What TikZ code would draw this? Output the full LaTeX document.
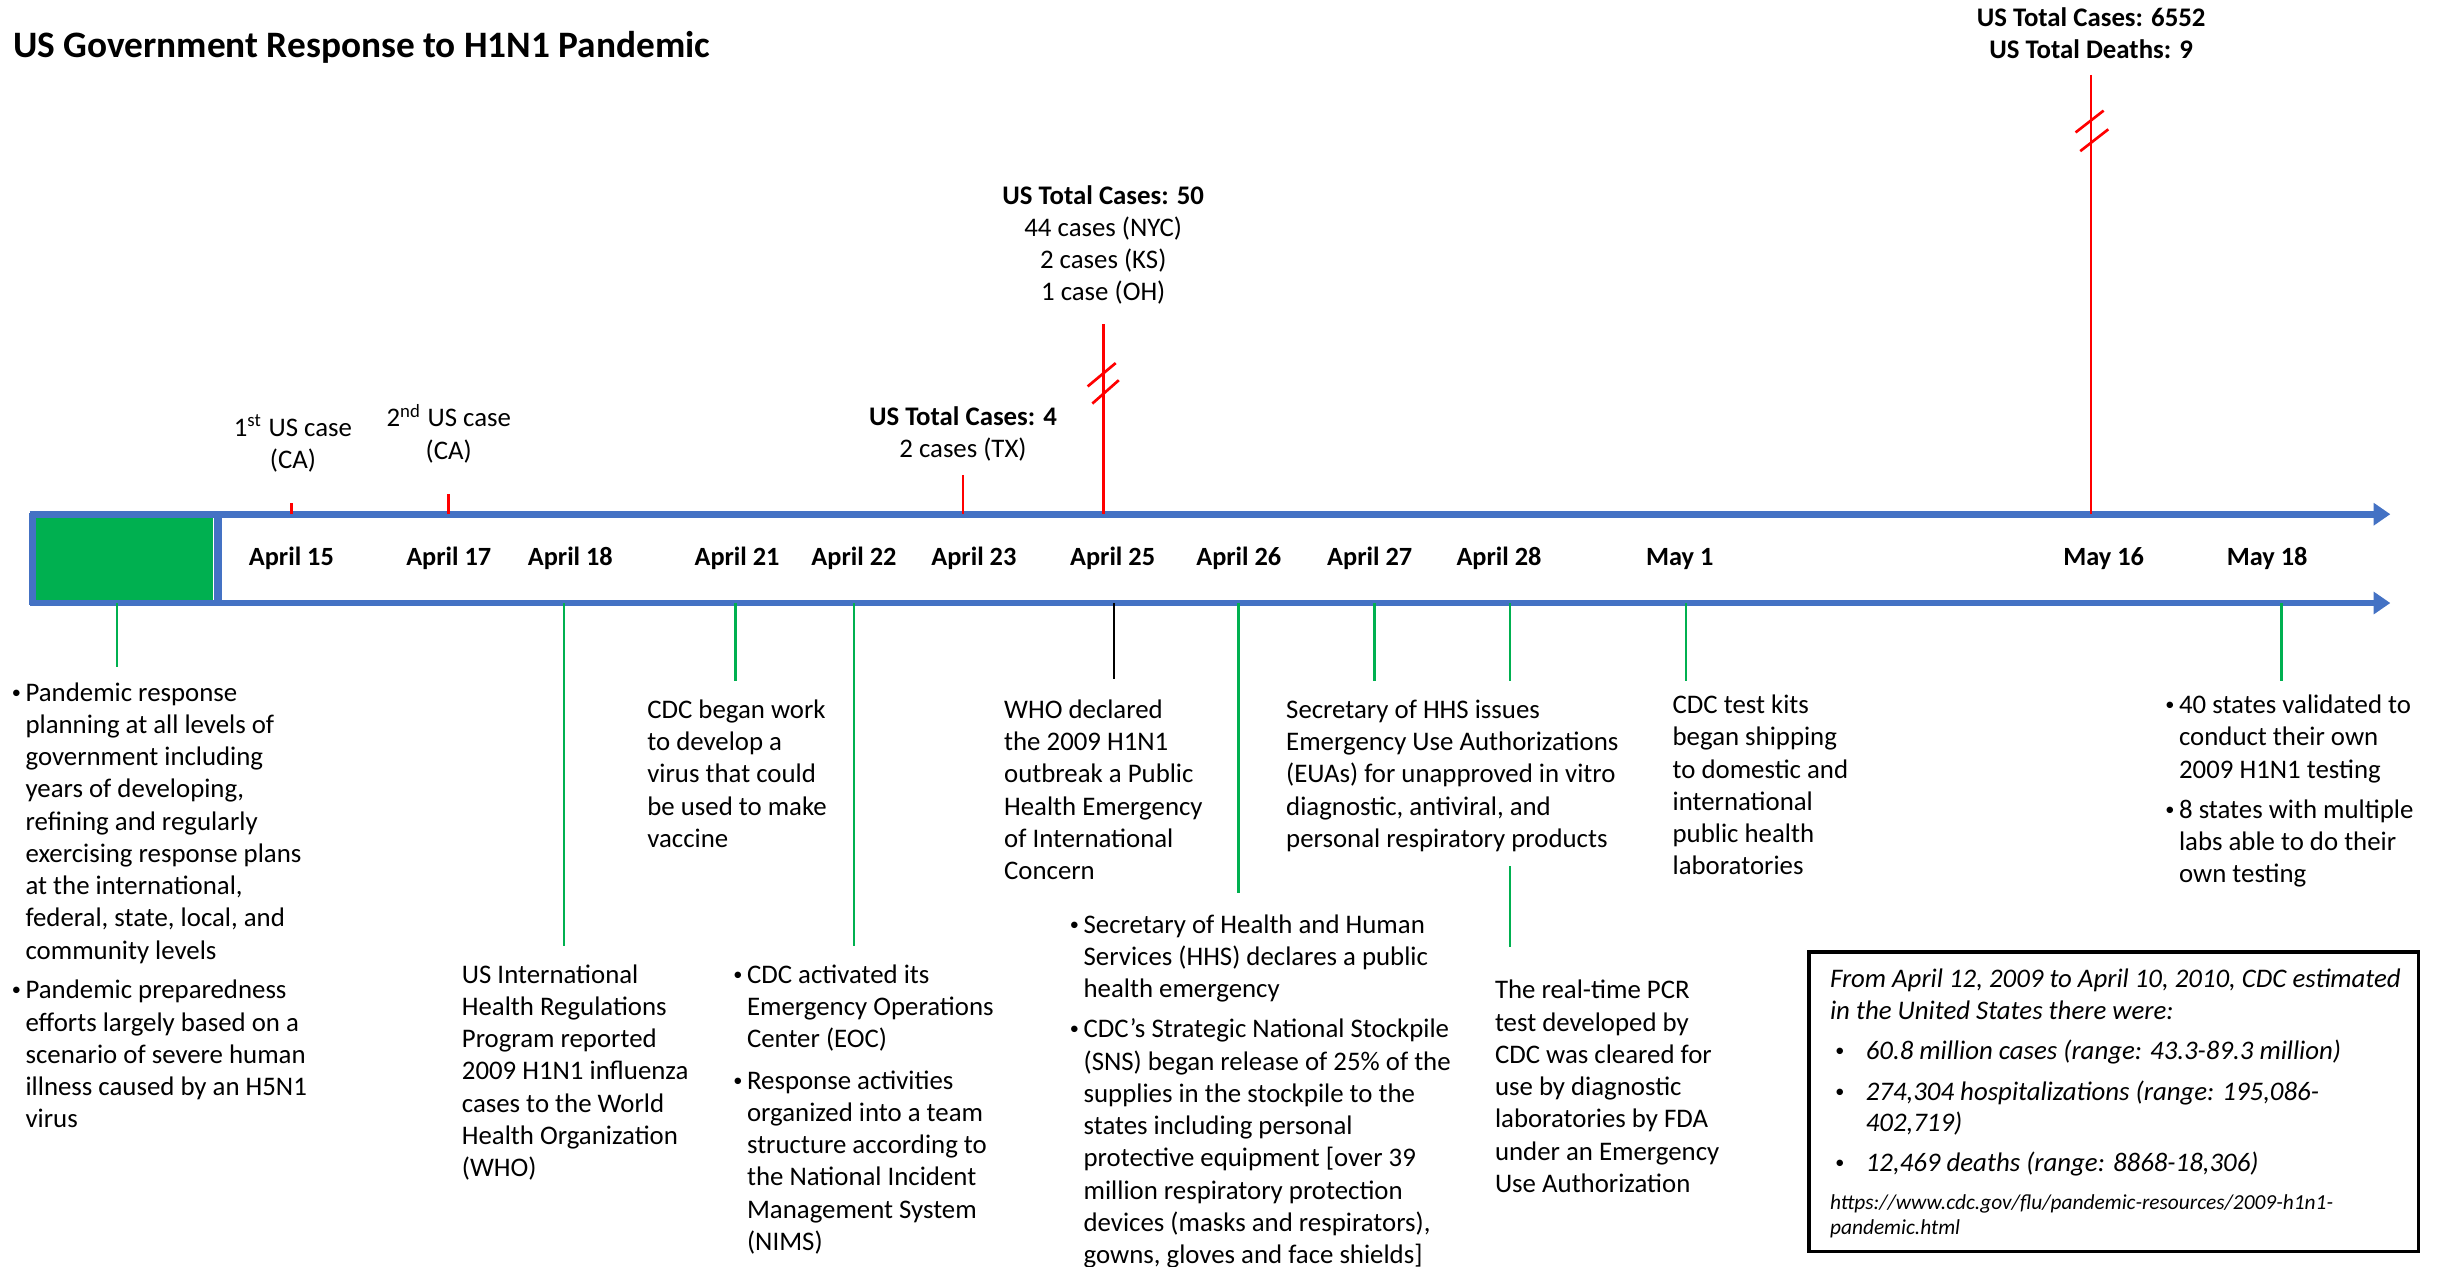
\documentclass[tikz,border=0pt]{standalone}
\usepackage{fontspec}
\setmainfont{Carlito}
\usetikzlibrary{arrows.meta}
\definecolor{tlblue}{RGB}{68,114,196}
\definecolor{tlgreen}{RGB}{0,176,80}
\definecolor{tlred}{RGB}{255,0,0}
\newcommand\bodyfont{\fontsize{8.05}{9.68}\selectfont}
\newcommand\datefont{\fontsize{7.9}{9.68}\selectfont\bfseries}
\newcommand\boxfont{\fontsize{8.05}{9.4}\selectfont\itshape}
\newcommand\urlfont{\fontsize{6.42}{7.5}\selectfont\itshape}
\newcommand\smallbullet{\raisebox{0.9pt}{\fontsize{5.5}{6}\selectfont\textbullet}}
\newcommand\bu{\llap{\smallbullet\hspace{1.4pt}}}
\newcommand\bx{\llap{\smallbullet\hspace{6.5pt}}}
\newcommand\uu{0.4677pt}
\begin{document}
\begin{tikzpicture}[x={(0.4677pt,0pt)},y={(0pt,-0.4677pt)},
  txt/.style={font=\bodyfont, align=left, anchor=base west, inner sep=0pt},
  ctr/.style={font=\bodyfont, align=center, anchor=base, inner sep=0pt},
  nl/.style={yshift=-#1*9.68pt},
  bl/.style={yshift=-#1*9.4pt},
  ul/.style={yshift=-#1*7.5pt},
  datelbl/.style={font=\datefont, anchor=base, inner sep=0pt},
  redln/.style={draw=tlred, line width=0.8pt},
  grnln/.style={draw=tlgreen, line width=0.8pt},
  blkln/.style={draw=black, line width=0.8pt},
  axis/.style={draw=tlblue, line width=2pt, -{Triangle[length=5pt,width=6.5pt]}},
  brk/.style={draw=tlred, line width=0.8pt}]
\useasboundingbox (0,0) rectangle (1567.8,813.1);

% title
\node[font=\fontsize{11.2}{13}\selectfont\bfseries, anchor=base west, inner sep=0pt] (title) at (8,37) {US Government Response to H1N1 Pandemic};

% axes
\coordinate (axL) at (19,330); \coordinate (axR) at (1534,330);
\coordinate (bxL) at (19,387); \coordinate (bxR) at (1534,387);
\node[fill=tlgreen, inner sep=0pt, minimum width=115*\uu, minimum height=54*\uu] (gbox) at (79.5,358.5) {};
\draw[axis] (axL) -- (axR);
\draw[axis] (bxL) -- (bxR);
\draw[tlblue, line width=2pt] (21,329) -- (21,388);
\draw[tlblue, line width=2.3pt] (140,330) -- (140,387);

% dates
\node[datelbl] (d15) at (187,363) {April 15};
\node[datelbl] (d17) at (288,363) {April 17};
\node[datelbl] (d18) at (366,363) {April 18};
\node[datelbl] (d21) at (473,363) {April 21};
\node[datelbl] (d22) at (548,363) {April 22};
\node[datelbl] (d23) at (625,363) {April 23};
\node[datelbl] (d25) at (714,363) {April 25};
\node[datelbl] (d26) at (795,363) {April 26};
\node[datelbl] (d27) at (879,363) {April 27};
\node[datelbl] (d28) at (962,363) {April 28};
\node[datelbl] (m1) at (1078,363) {May 1};
\node[datelbl] (m16) at (1350,363) {May 16};
\node[datelbl] (m18) at (1455,363) {May 18};

% upper labels
\node[ctr, nl=1] (u15) at (188,280) {1\textsuperscript{st} US case\\(CA)};
\node[ctr, nl=1] (u17) at (288,274) {2\textsuperscript{nd} US case\\(CA)};
\node[ctr, nl=1] (u23) at (618,273) {\textbf{US Total Cases: 4}\\2 cases (TX)};
\node[ctr, nl=3] (u25) at (708,131) {\textbf{US Total Cases: 50}\\44 cases (NYC)\\2 cases (KS)\\1 case (OH)};
\node[ctr, nl=1] (u16) at (1342,17) {\textbf{US Total Cases: 6552}\\\textbf{US Total Deaths: 9}};

% red ticks
\coordinate (r15) at (187,323); \coordinate (r15b) at (187,330);
\coordinate (r17) at (288,317); \coordinate (r17b) at (288,330);
\coordinate (r23) at (618,305); \coordinate (r23b) at (618,330);
\coordinate (r25) at (708,208); \coordinate (r25b) at (708,330);
\coordinate (r16) at (1342,48); \coordinate (r16b) at (1342,330);
\draw[redln] (r15) -- (r15b);
\draw[redln] (r17) -- (r17b);
\draw[redln] (r23) -- (r23b);
\draw[redln] (r25) -- (r25b);
\draw[redln] (r16) -- (r16b);
% break marks
\draw[brk] (698,248) -- (716,233);
\draw[brk] (701,259) -- (718,244);
\draw[brk] (1332,85) -- (1350,71);
\draw[brk] (1335,97) -- (1353,83);

% lower ticks
\coordinate (g0) at (75,387); \coordinate (g0e) at (75,428);
\coordinate (g18) at (362,387); \coordinate (g18e) at (362,607);
\coordinate (g21) at (472,387); \coordinate (g21e) at (472,437);
\coordinate (g22) at (548,387); \coordinate (g22e) at (548,607);
\coordinate (k25) at (715,387); \coordinate (k25e) at (715,436);
\coordinate (g26) at (795,387); \coordinate (g26e) at (795,573);
\coordinate (g27) at (882,387); \coordinate (g27e) at (882,437);
\coordinate (g28) at (969,387); \coordinate (g28e) at (969,437);
\coordinate (g28b) at (969,556); \coordinate (g28be) at (969,608);
\coordinate (gm1) at (1082,387); \coordinate (gm1e) at (1082,437);
\coordinate (gm18) at (1464,387); \coordinate (gm18e) at (1464,437);
\draw[grnln] (g0) -- (g0e);
\draw[grnln] (g18) -- (g18e);
\draw[grnln] (g21) -- (g21e);
\draw[grnln] (g22) -- (g22e);
\draw[blkln] (k25) -- (k25e);
\draw[grnln] (g26) -- (g26e);
\draw[grnln] (g27) -- (g27e);
\draw[grnln] (g28) -- (g28e);
\draw[grnln] (g28b) -- (g28be);
\draw[grnln] (gm1) -- (gm1e);
\draw[grnln] (gm18) -- (gm18e);

% lower texts
\node[txt, nl=8] (l1) at (16,450) {\bu Pandemic response\\planning at all levels of\\government including\\years of developing,\\refining and regularly\\exercising response plans\\at the international,\\federal, state, local, and\\community levels};
\node[txt, nl=4] (l2) at (16,641) {\bu Pandemic preparedness\\efforts largely based on a\\scenario of severe human\\illness caused by an H5N1\\virus};
\node[txt, nl=6] (t18) at (296,631) {US International\\Health Regulations\\Program reported\\2009 H1N1 influenza\\cases to the World\\Health Organization\\(WHO)};
\node[txt, nl=4] (t21) at (415,461) {CDC began work\\to develop a\\virus that could\\be used to make\\vaccine};
\node[txt, nl=2] (t22a) at (479,631) {\bu CDC activated its\\Emergency Operations\\Center (EOC)};
\node[txt, nl=5] (t22b) at (479,699) {\bu Response activities\\organized into a team\\structure according to\\the National Incident\\Management System\\(NIMS)};
\node[txt, nl=5] (t25) at (644,461) {WHO declared\\the 2009 H1N1\\outbreak a Public\\Health Emergency\\of International\\Concern};
\node[txt, nl=2] (t26a) at (695,599) {\bu Secretary of Health and Human\\Services (HHS) declares a public\\health emergency};
\node[txt, nl=7] (t26b) at (695,666) {\bu CDC’s Strategic National Stockpile\\(SNS) began release of 25\% of the\\supplies in the stockpile to the\\states including personal\\protective equipment [over 39\\million respiratory protection\\devices (masks and respirators),\\gowns, gloves and face shields]};
\node[txt, nl=4] (t27) at (825,461) {Secretary of HHS issues\\Emergency Use Authorizations\\(EUAs) for unapproved in vitro\\diagnostic, antiviral, and\\personal respiratory products};
\node[txt, nl=6] (t28) at (959,641) {The real-time PCR\\test developed by\\CDC was cleared for\\use by diagnostic\\laboratories by FDA\\under an Emergency\\Use Authorization};
\node[txt, nl=5] (tm1) at (1073,458) {CDC test kits\\began shipping\\to domestic and\\international\\public health\\laboratories};
\node[txt, nl=2] (tm18a) at (1398,458) {\bu 40 states validated to\\conduct their own\\2009 H1N1 testing};
\node[txt, nl=2] (tm18b) at (1398,525) {\bu 8 states with multiple\\labs able to do their\\own testing};

% estimate box
\node[draw=black, line width=1pt, inner sep=0pt, minimum width=391*\uu, minimum height=192*\uu] (est) at (1356.5,707) {};
\node[txt, font=\boxfont, bl=1] (e1) at (1174,634) {From April 12, 2009 to April 10, 2010, CDC estimated\\in the United States there were:};
\node[txt, font=\boxfont] (e2) at (1197,680) {\bx 60.8 million cases (range: 43.3-89.3 million)};
\node[txt, font=\boxfont, bl=1] (e3) at (1197,706) {\bx 274,304 hospitalizations (range: 195,086-\\402,719)};
\node[txt, font=\boxfont] (e4) at (1197,752) {\bx 12,469 deaths (range: 8868-18,306)};
\node[txt, font=\urlfont, ul=1] (e5) at (1174,776) {https://www.cdc.gov/flu/pandemic-resources/2009-h1n1-\\pandemic.html};
\end{tikzpicture}
\end{document}
